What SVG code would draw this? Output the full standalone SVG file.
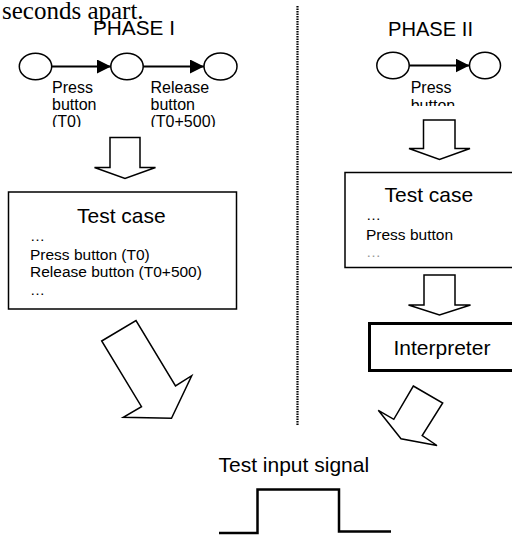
<svg xmlns="http://www.w3.org/2000/svg" width="512" height="535" viewBox="0 0 512 535">
  <style>
    .sans { font-family: "Liberation Sans", Arial, sans-serif; fill: #000; }
    .serif { font-family: "Liberation Serif", "Times New Roman", serif; fill: #000; }
    .state { fill: #fff; stroke: #000; stroke-width: 1.5; }
    .edge { stroke: #000; stroke-width: 1.8; fill: none; }
    .block { fill: #fff; stroke: #000; stroke-width: 1.5; stroke-linejoin: miter; }
    .box { fill: #fff; stroke: #000; stroke-width: 1.5; }
  </style>
  <defs>
    <marker id="head" viewBox="0 0 14 14" refX="14" refY="7" markerWidth="14" markerHeight="14" markerUnits="userSpaceOnUse" orient="auto">
      <path d="M0,0 L14,7 L0,14 Z" fill="#000"/>
    </marker>
    <clipPath id="clipP1"><rect x="40" y="75" width="200" height="52"/></clipPath>
    <clipPath id="clipP2"><rect x="400" y="75" width="100" height="31"/></clipPath>
  </defs>

  <rect width="512" height="535" fill="#fff"/>

  <!-- caption fragment at top -->
  <text class="serif" x="2" y="18.5" font-size="25">seconds apart.</text>

  <!-- divider between the two phases -->
  <line x1="297.5" y1="6" x2="297.5" y2="425" stroke="#000" stroke-width="2.2" stroke-dasharray="1.5,1"/>

  <!-- headings -->
  <text class="sans" x="93" y="35" font-size="20" textLength="82" lengthAdjust="spacingAndGlyphs">PHASE I</text>
  <text class="sans" x="388" y="36" font-size="20" textLength="85" lengthAdjust="spacingAndGlyphs">PHASE II</text>

  <!-- connectors: state transitions and block arrows -->
  <g id="connectors">
    <line class="edge" x1="51" y1="66.5" x2="111" y2="66.5" marker-end="url(#head)"/>
    <line class="edge" x1="143" y1="66.5" x2="204" y2="66.5" marker-end="url(#head)"/>
    <line class="edge" x1="409" y1="65.5" x2="469.5" y2="65.5" marker-end="url(#head)"/>

    <polygon class="block" points="110,137.5 140,137.5 140,167.5 155.5,167.5 125,178.5 94.5,167.5 110,167.5"/>
    <polygon class="block" points="423.5,120 455,120 455,148.5 470,148.5 439.5,159.5 409,148.5 423.5,148.5"/>
    <polygon class="block" points="424,275 455,275 455,305 470.5,305 439.5,315 408.5,305 424,305"/>
    <polygon class="block" points="101.7,341 136,320.5 175.5,386 191.7,375.7 171.5,418.3 123.3,417.3 141.5,406.7"/>
    <polygon class="block" points="413.3,386 442.7,403 422.2,435.5 437,445.5 401,438.8 378.3,410.3 393.8,419.3"/>
  </g>

  <!-- phase I state graph -->
  <g id="p1-s0"><ellipse class="state" cx="35.5" cy="66.5" rx="16.2" ry="13.3"/></g>
  <g id="p1-s1"><ellipse class="state" cx="127" cy="66.5" rx="16.2" ry="13.3"/></g>
  <g id="p1-s2"><ellipse class="state" cx="220.5" cy="66.5" rx="16.5" ry="13.5"/></g>
  <g id="p1-labels" clip-path="url(#clipP1)">
    <text class="sans" font-size="16" x="52" y="92.7">Press</text>
    <text class="sans" font-size="16" x="52" y="110">button</text>
    <text class="sans" font-size="16" x="52" y="127.3">(T0)</text>
    <text class="sans" font-size="16" x="150.5" y="92.7">Release</text>
    <text class="sans" font-size="16" x="150.5" y="110">button</text>
    <text class="sans" font-size="16" x="150.5" y="127.3">(T0+500)</text>
  </g>

  <!-- phase II state graph -->
  <g id="p2-s0"><ellipse class="state" cx="393" cy="65.5" rx="16.2" ry="13.3"/></g>
  <g id="p2-s1"><ellipse class="state" cx="485" cy="65.5" rx="15.5" ry="13.3"/></g>
  <g id="p2-labels" clip-path="url(#clipP2)">
    <text class="sans" font-size="16" x="410.7" y="93.3">Press</text>
    <text class="sans" font-size="16" x="410.7" y="110.5">button</text>
  </g>

  <!-- phase I test case -->
  <g id="testcase1">
    <rect class="box" x="8.5" y="192" width="228" height="117"/>
    <text class="sans" x="77" y="222.7" font-size="21">Test case</text>
    <text class="sans" x="30" y="241" font-size="15">…</text>
    <text class="sans" x="30" y="259.5" font-size="15.5">Press button (T0)</text>
    <text class="sans" x="30" y="277" font-size="15.5">Release button (T0+500)</text>
    <text class="sans" x="30" y="295" font-size="15">…</text>
  </g>

  <!-- phase II test case -->
  <g id="testcase2">
    <rect class="box" x="345" y="172.5" width="180" height="95"/>
    <text class="sans" x="384.5" y="201.7" font-size="21">Test case</text>
    <text class="sans" x="366" y="220" font-size="15">…</text>
    <text class="sans" x="366" y="240" font-size="15.5">Press button</text>
    <text class="sans" x="366" y="257" font-size="15" style="fill:#999">…</text>
  </g>

  <!-- interpreter -->
  <g id="interpreter">
    <rect x="369.5" y="323.5" width="160" height="47" fill="#fff" stroke="#000" stroke-width="3"/>
    <text class="sans" x="393.5" y="355" font-size="21">Interpreter</text>
  </g>

  <!-- resulting signal -->
  <g id="signal">
    <text class="sans" x="218.5" y="472.3" font-size="21">Test input signal</text>
    <polyline points="219,533 257.5,533 257.5,489.5 339,489.5 339,531.5 391,531.5" fill="none" stroke="#000" stroke-width="2.5"/>
  </g>
</svg>
